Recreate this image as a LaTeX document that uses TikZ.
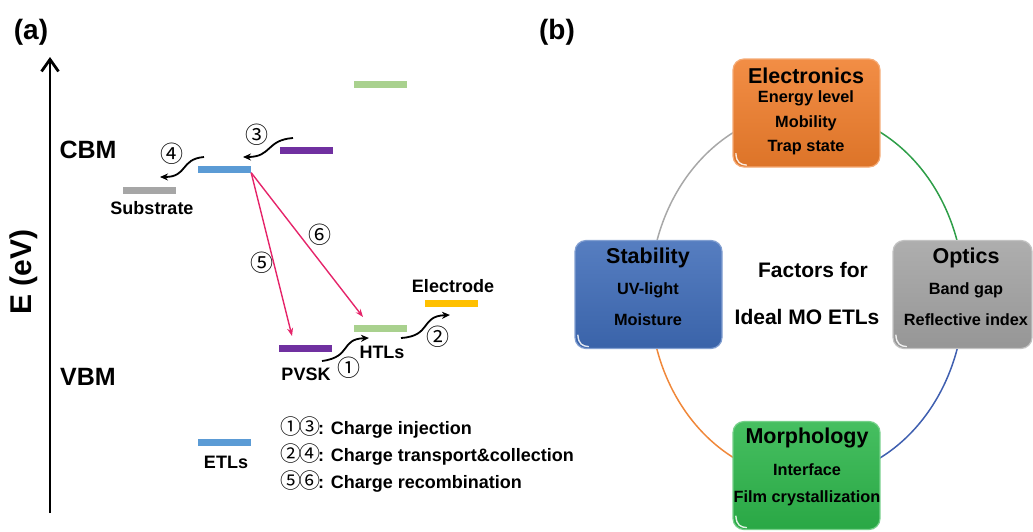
\documentclass[tikz,border=0pt]{standalone}
\usepackage{fontspec}
\setmainfont{Liberation Sans}
\newfontfamily\circfont{Noto Sans CJK SC}
\usetikzlibrary{arrows.meta}

\definecolor{etlblue}{HTML}{5B9BD5}
\definecolor{pvskpurple}{HTML}{7030A0}
\definecolor{htlgreen}{HTML}{A9D18E}
\definecolor{subgray}{HTML}{A6A6A6}
\definecolor{elecyellow}{HTML}{FFC000}
\definecolor{recpink}{HTML}{E5256A}
\definecolor{boxorange}{HTML}{F07E2C}
\definecolor{boxblue}{HTML}{3F6CB8}
\definecolor{boxgray}{HTML}{A3A3A3}
\definecolor{boxgreen}{HTML}{2DB64B}
\definecolor{ringgray}{HTML}{A8A8A8}
\definecolor{ringgreen}{HTML}{2E9E48}
\definecolor{ringorange}{HTML}{F0883A}
\definecolor{ringblue}{HTML}{3F5FB0}

% circled step numbers set a little tighter than the font's own advance
\newcommand{\stepnum}[1]{{\circfont\mdseries\fontsize{21}{21}\selectfont #1\kern-2pt}}

\tikzset{
  bar/.style={fill=#1, draw=none, minimum width=53pt, minimum height=7pt, inner sep=0pt},
  lbl/.style={font=\bfseries\fontsize{18}{20}\selectfont, inner sep=0pt},
  band/.style={font=\bfseries\fontsize{25}{28}\selectfont, inner sep=0pt},
  panel/.style={font=\bfseries\fontsize{28}{30}\selectfont, inner sep=0pt},
  circ/.style={font=\circfont\fontsize{23}{24}\selectfont, inner sep=0pt},
  curly/.style={-{Stealth[length=8pt,width=7pt]}, line width=1.8pt, black},
  recomb/.style={-{Stealth[length=8pt,width=6pt]}, line width=1.4pt, recpink},
  factor/.style={rounded corners=11pt, minimum width=147pt, minimum height=108pt,
    inner sep=0pt, top color=#1!88!white, bottom color=#1!92!black,
    draw=#1!65!white, line width=1.2pt},
  glint/.style={white, line width=1.4pt, line cap=round, opacity=0.85},
  ftitle/.style={font=\bfseries\fontsize{21.5}{24}\selectfont, inner sep=0pt},
  fitem/.style={font=\bfseries\fontsize{16.3}{18}\selectfont, inner sep=0pt},
  centre/.style={font=\bfseries\fontsize{21}{24}\selectfont, inner sep=0pt},
  ring/.style={line width=1.5pt, #1},
}

\begin{document}
\begin{tikzpicture}[x=1pt, y=-1pt]
\useasboundingbox (0,0) rectangle (1033,531);

% ---------------- (a) energy level diagram ----------------
\node[panel] (la) at (31,32) {(a)};

\coordinate (axbot) at (50,513);
\coordinate (axtop) at (50,57);
\draw[line width=2.6pt, -{Straight Barb[length=12pt,width=17pt,line width=2.8pt]}] (axbot) -- (axtop);
\node[font=\bfseries\fontsize{30}{32}\selectfont, inner sep=0pt, rotate=90] (eaxis) at (24,272) {E (eV)};

\node[band] (cbm) at (88,150) {CBM};
\node[band] (vbm) at (88,377) {VBM};

% energy levels
\node[bar=subgray]    (sub)  at (149.5,190.5) {};
\node[bar=etlblue]    (etl)  at (224.5,169) {};
\node[bar=pvskpurple] (pvc)  at (306,150) {};
\node[bar=htlgreen]   (htc)  at (380,84.5) {};
\node[bar=elecyellow] (ele)  at (451.5,303) {};
\node[bar=htlgreen]   (htv)  at (380,328) {};
\node[bar=pvskpurple] (pvv)  at (305.5,348) {};

\node[lbl] (subl) at (152,208) {Substrate};
\node[lbl] (elel) at (453,286) {Electrode};
\node[lbl] (htll) at (382,352) {HTLs};
\node[lbl] (pvsl) at (306,374) {PVSK};

% charge transfer paths
\coordinate (s3) at (293,138);  \coordinate (e3) at (243,157);
\coordinate (s4) at (204,157);  \coordinate (e4) at (160,177);
\coordinate (s1) at (322,361);  \coordinate (e1) at (369,338);
\coordinate (s2) at (401,338);  \coordinate (e2) at (450,315);
\draw[curly] (s3) .. controls (266,140) and (272,157) .. (e3);
\draw[curly] (s4) .. controls (180,159) and (188,177) .. (e4);
\draw[curly] (s1) .. controls (352,357) and (340,339) .. (e1);
\draw[curly] (s2) .. controls (432,336) and (420,316) .. (e2);

\node[circ] (n3) at (257,135) {③};
\node[circ] (n4) at (172,154) {④};
\node[circ] (n1) at (349,368) {①};
\node[circ] (n2) at (438,337) {②};

% recombination paths
\coordinate (t5) at (292,336);
\coordinate (t6) at (363,317);
\draw[recomb] (etl.south east) -- (t5);
\draw[recomb] (etl.south east) -- (t6);
\node[circ] (n5) at (262,263) {⑤};
\node[circ] (n6) at (320,235) {⑥};

% legend
\node[bar=etlblue] (etlk) at (224.5,442.5) {};
\node[lbl] (etll) at (226,462) {ETLs};
\node[lbl, anchor=base west] (k1) at (280,434.5) {\stepnum{①}\stepnum{③}: Charge injection};
\node[lbl, anchor=base west] (k2) at (280,461.5) {\stepnum{②}\stepnum{④}: Charge transport\&collection};
\node[lbl, anchor=base west] (k3) at (280,488.5) {\stepnum{⑤}\stepnum{⑥}: Charge recombination};

% ---------------- (b) factors for ideal MO ETLs ----------------
\node[panel] (lb) at (557,32) {(b)};

\coordinate (rc) at (807,295);
\draw[ring=ringgray]   ([shift={(180:157 and 184)}]rc) arc[start angle=180, end angle=270, x radius=157, y radius=184];
\draw[ring=ringgreen]  ([shift={(270:157 and 184)}]rc) arc[start angle=270, end angle=360, x radius=157, y radius=184];
\draw[ring=ringblue]   ([shift={(0:157 and 184)}]rc)   arc[start angle=0,   end angle=90,  x radius=157, y radius=184];
\draw[ring=ringorange] ([shift={(90:157 and 184)}]rc)  arc[start angle=90,  end angle=180, x radius=157, y radius=184];

\node[factor=boxorange] (elx) at (806.5,113) {};
\node[factor=boxblue]   (stb) at (648.5,294.5) {};
\node[factor=boxgray, minimum width=139pt] (opt) at (962.5,294.5) {};
\node[factor=boxgreen]  (mor) at (806.5,475.5) {};

% small highlight in the lower left corner of each box
\foreach \b in {elx,stb,opt,mor}{
  \draw[glint] ([shift={(3.5,-14)}]\b.south west) .. controls ([shift={(4,-5)}]\b.south west) and ([shift={(8,-3)}]\b.south west) .. ([shift={(14,-2.5)}]\b.south west);
}

\node[ftitle] (elxt) at (806,76) {Electronics};
\node[fitem]  (elx1) at (806,98) {Energy level};
\node[fitem]  (elx2) at (806,123) {Mobility};
\node[fitem]  (elx3) at (806,148) {Trap state};

\node[ftitle] (stbt) at (648,258) {Stability};
\node[fitem]  (stb1) at (648,290) {UV-light};
\node[fitem]  (stb2) at (648,320) {Moisture};

\node[ftitle] (optt) at (966,258) {Optics};
\node[fitem]  (opt1) at (966,290) {Band gap};
\node[fitem]  (opt2) at (966,320) {Reflective index};

\node[ftitle] (mort) at (807,438) {Morphology};
\node[fitem]  (mor1) at (807,470) {Interface};
\node[fitem]  (mor2) at (807,498) {Film crystallization};

\node[centre] (fc1) at (813,270) {Factors for};
\node[centre] (fc2) at (807,317) {Ideal MO ETLs};
\end{tikzpicture}
\end{document}
